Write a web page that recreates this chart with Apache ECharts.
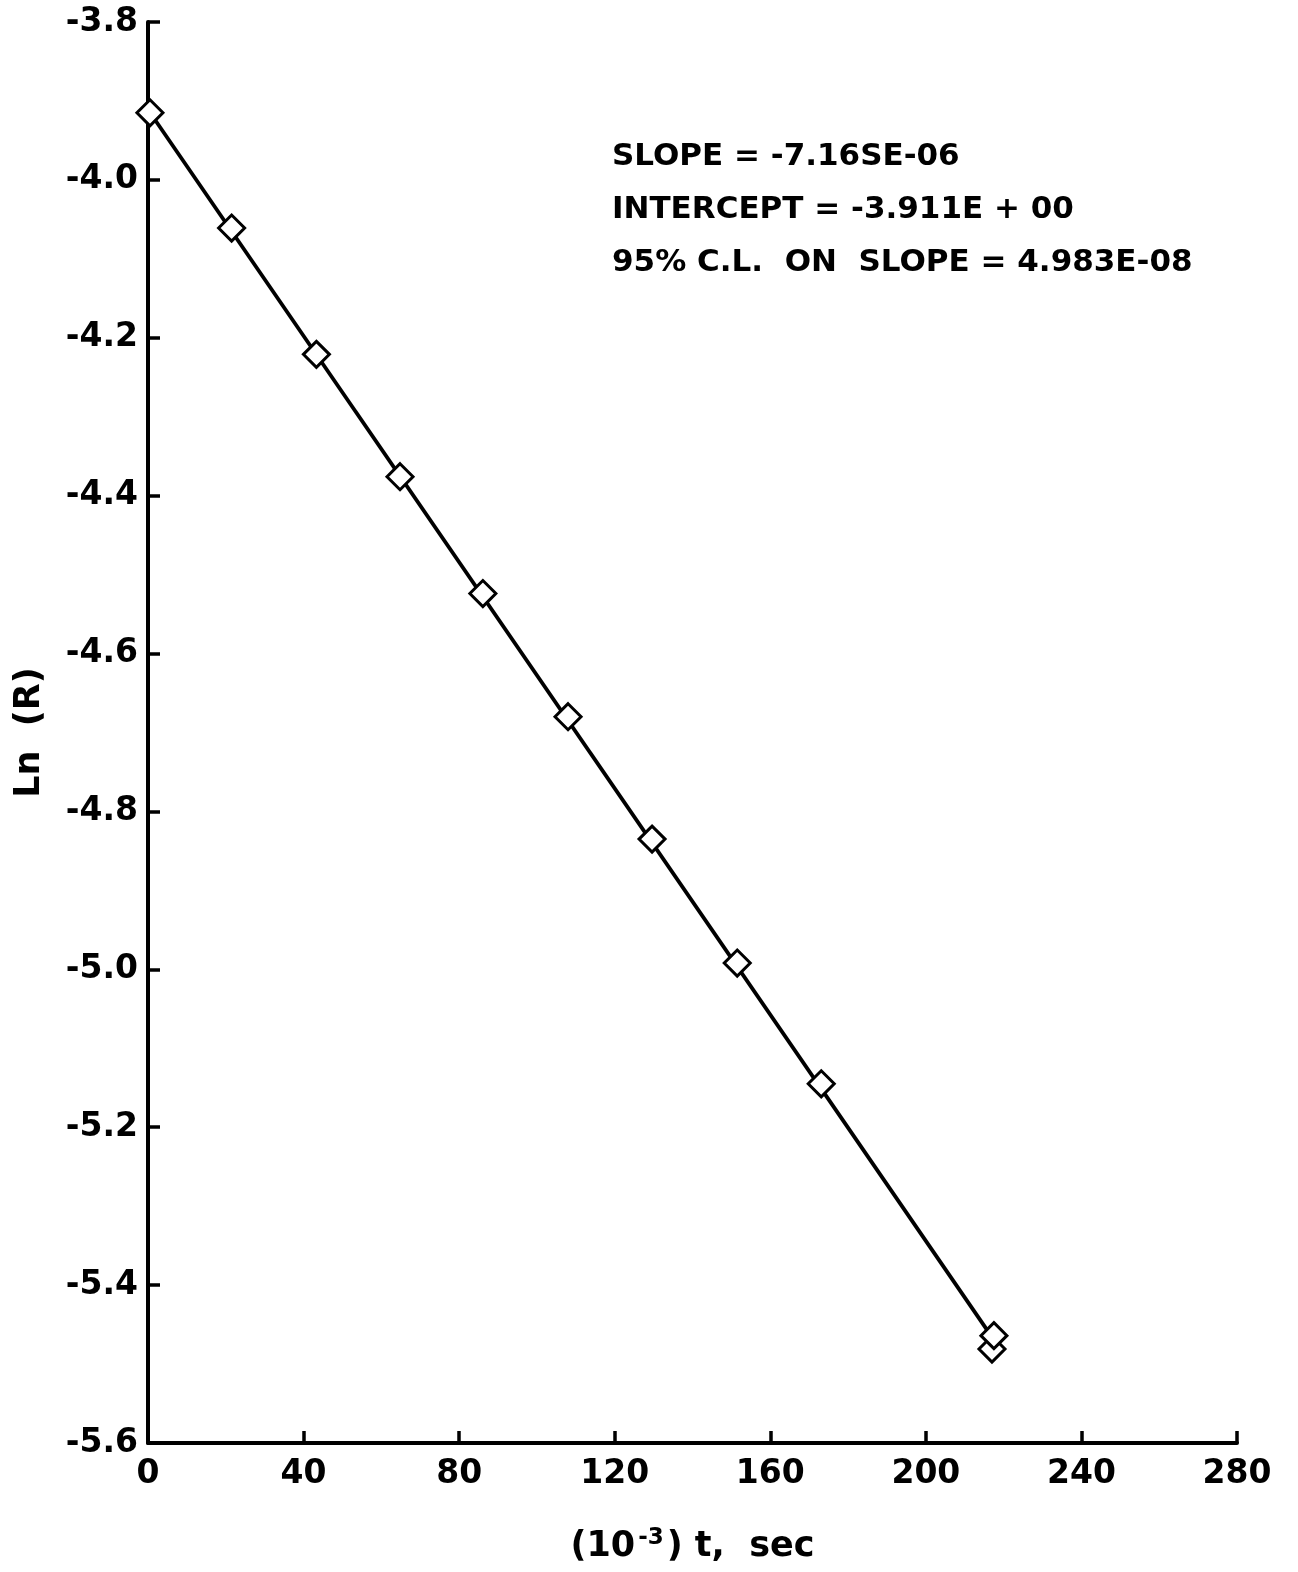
<!DOCTYPE html>
<html>
<head>
<meta charset="utf-8">
<script src="https://cdn.jsdelivr.net/npm/echarts@6/dist/echarts.min.js"></script>
<style>
html,body{margin:0;padding:0;background:#fff;}
#chart{width:1298px;height:1572px;}
</style>
</head>
<body>
<div id="chart"></div>
<script>
// Data: t in units of 10^3 s, Ln(R)
const timeK = [0.5, 21.5, 43.3, 64.8, 86.1, 108.0, 129.6, 151.5, 173.1, 217.0, 217.5];
const lnR   = [-3.915, -4.061, -4.221, -4.376, -4.524, -4.680, -4.835, -4.992, -5.145, -5.481, -5.464];
const xTicks = [0, 40, 80, 120, 160, 200, 240, 280];
const yTicks = [-5.6, -5.4, -5.2, -5.0, -4.8, -4.6, -4.4, -4.2, -4.0, -3.8];
// Fit (per second) as printed on the chart
const fitSlope = -7.165e-6;
const fitIntercept = -3.911;
const fitRange = [0.5, 217.5];
const annotations = [
  'SLOPE = -7.16SE-06',
  'INTERCEPT = -3.911E + 00',
  '95% C.L.  ON  SLOPE = 4.983E-08'
];

const pts = timeK.map((t, i) => [t, lnR[i]]);
const fitLine = fitRange.map(t => [t, fitIntercept + fitSlope * t * 1000]);

const FONT = 'DejaVu Sans';
const chart = echarts.init(document.getElementById('chart'), null, {renderer: 'canvas'});
chart.setOption({
  backgroundColor: '#fff',
  animation: false,
  grid: {left: 148, top: 22, right: 61, bottom: 129},
  xAxis: {
    type: 'value', min: xTicks[0], max: xTicks[xTicks.length - 1], interval: 40,
    splitLine: {show: false},
    axisLine: {lineStyle: {color: '#000', width: 4}},
    axisTick: {inside: true, length: 12, lineStyle: {color: '#000', width: 3.5}},
    axisLabel: {color: '#000', fontFamily: FONT, fontWeight: 'bold', fontSize: 33, margin: 15},
    name: '(10{sup|-3}) t,  sec',
    nameLocation: 'middle', nameGap: 84,
    nameTextStyle: {
      color: '#000', fontFamily: FONT, fontWeight: 'bold', fontSize: 35,
      rich: {sup: {fontFamily: FONT, fontWeight: 'bold', fontSize: 23, verticalAlign: 'top', padding: [0, 3, 16, 3], color: '#000'}}
    }
  },
  yAxis: {
    type: 'value', min: yTicks[0], max: yTicks[yTicks.length - 1], interval: 0.2,
    splitLine: {show: false},
    axisLine: {lineStyle: {color: '#000', width: 4}},
    axisTick: {inside: true, length: 12, lineStyle: {color: '#000', width: 3.5}},
    axisLabel: {color: '#000', fontFamily: FONT, fontWeight: 'bold', fontSize: 33, margin: 10,
      formatter: v => v.toFixed(1)},
    name: 'Ln  (R)', nameLocation: 'middle', nameGap: 101, nameRotate: 90,
    nameTextStyle: {color: '#000', fontFamily: FONT, fontWeight: 'bold', fontSize: 35}
  },
  graphic: annotations.map((t, i) => ({
    type: 'text', left: 612, top: 141 + i * 53,
    style: {text: t, fill: '#000', font: 'bold 31px "DejaVu Sans"'}
  })),
  series: [
    {
      type: 'line', data: fitLine, showSymbol: false, symbol: 'none',
      lineStyle: {color: '#000', width: 3.8}, z: 2, silent: true
    },
    {
      type: 'scatter', data: pts, symbol: 'diamond', symbolSize: [26, 26],
      itemStyle: {color: '#fff', borderColor: '#000', borderWidth: 3, opacity: 1}, z: 3
    }
  ]
});
</script>
</body>
</html>
